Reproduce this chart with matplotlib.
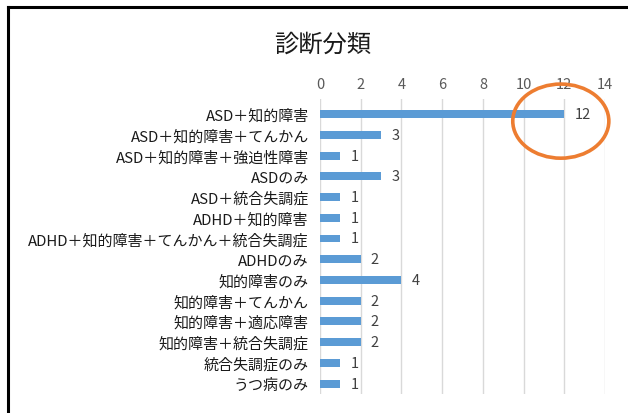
import matplotlib.pyplot as plt
from matplotlib.patches import Ellipse
from matplotlib.lines import Line2D

plt.rcParams['font.family'] = ['Noto Sans CJK JP', 'DejaVu Sans']

categories = ['ASD＋知的障害', 'ASD＋知的障害＋てんかん', 'ASD＋知的障害＋強迫性障害',
              'ASDのみ', 'ASD＋統合失調症', 'ADHD＋知的障害',
              'ADHD＋知的障害＋てんかん＋統合失調症', 'ADHDのみ', '知的障害のみ',
              '知的障害＋てんかん', '知的障害＋適応障害', '知的障害＋統合失調症',
              '統合失調症のみ', 'うつ病のみ']
counts = [12, 3, 1, 3, 1, 1, 1, 2, 4, 2, 2, 2, 1, 1]
xticks = [0, 2, 4, 6, 8, 10, 12, 14]

fig = plt.figure(figsize=(6.28, 4.14), dpi=100)
ax = fig.add_axes([0.5096, 0.046, 0.4538, 0.712])

pos = list(range(len(categories)))
ax.barh(pos, counts, height=0.38, color='#5B9BD5', zorder=3)
for p, c in zip(pos, counts):
    ax.text(c + 0.5, p, str(c), va='center', ha='left', fontsize=10.5, color='#404040')

ax.set_xlim(0, 14)
ax.set_ylim(13.5, -0.72)
ax.set_xticks(xticks)
ax.set_yticks(pos)
ax.set_yticklabels(categories, fontsize=10.8, color='#1a1a1a')
ax.xaxis.tick_top()
ax.tick_params(axis='x', length=0, labelsize=10.5, labelcolor='#595959', pad=6)
ax.tick_params(axis='y', length=0, pad=8)
ax.grid(axis='x', color='#D9D9D9', linewidth=1, zorder=0)
for s in ax.spines.values():
    s.set_visible(False)

fig.text(0.513, 0.893, '診断分類', ha='center', va='center', fontsize=17.5, color='#1a1a1a')

# orange highlight ring around the top bar
fig.patches.append(Ellipse((0.893, 0.705), 0.153, 0.179, transform=fig.transFigure,
                           fill=False, edgecolor='#ED7D31', linewidth=2.6))

# frame on the top and left edges
fig.lines.append(Line2D([0.013, 1.0], [0.981, 0.981], transform=fig.transFigure,
                        color='black', linewidth=2.2))
fig.lines.append(Line2D([0.013, 0.013], [0.0, 0.981], transform=fig.transFigure,
                        color='black', linewidth=2.2))

plt.savefig('out.png', dpi=100)
